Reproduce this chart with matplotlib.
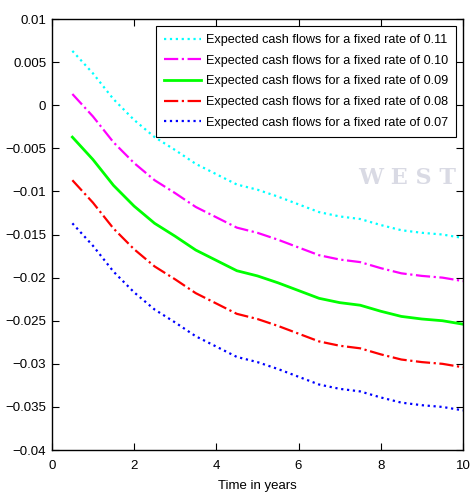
import numpy as np
import matplotlib.pyplot as plt

# Time grid (years)
t = np.array([0.5, 1.0, 1.5, 2.0, 2.5, 3.0, 3.5, 4.0, 4.5, 5.0,
              5.5, 6.0, 6.5, 7.0, 7.5, 8.0, 8.5, 9.0, 9.5, 10.0])

# Expected cash flows
cf_011 = np.array([0.0063, 0.0037, 0.0007, -0.0017, -0.0037, -0.0052, -0.0068, -0.0080, -0.0092, -0.0098,
                   -0.0106, -0.0115, -0.0124, -0.0129, -0.0132, -0.0139, -0.0145, -0.0148, -0.0150, -0.0154])
cf_010 = np.array([0.0013, -0.0013, -0.0043, -0.0067, -0.0087, -0.0102, -0.0118, -0.0130, -0.0142, -0.0148,
                   -0.0156, -0.0165, -0.0174, -0.0179, -0.0182, -0.0189, -0.0195, -0.0198, -0.0200, -0.0204])
cf_009 = np.array([-0.0037, -0.0063, -0.0093, -0.0117, -0.0137, -0.0152, -0.0168, -0.0180, -0.0192, -0.0198,
                   -0.0206, -0.0215, -0.0224, -0.0229, -0.0232, -0.0239, -0.0245, -0.0248, -0.0250, -0.0254])
cf_008 = np.array([-0.0087, -0.0113, -0.0143, -0.0167, -0.0187, -0.0202, -0.0218, -0.0230, -0.0242, -0.0248,
                   -0.0256, -0.0265, -0.0274, -0.0279, -0.0282, -0.0289, -0.0295, -0.0298, -0.0300, -0.0304])
cf_007 = np.array([-0.0137, -0.0163, -0.0193, -0.0217, -0.0237, -0.0252, -0.0268, -0.0280, -0.0292, -0.0298,
                   -0.0306, -0.0315, -0.0324, -0.0329, -0.0332, -0.0339, -0.0345, -0.0348, -0.0350, -0.0354])

labels = ["Expected cash flows for a fixed rate of 0.11",
          "Expected cash flows for a fixed rate of 0.10",
          "Expected cash flows for a fixed rate of 0.09",
          "Expected cash flows for a fixed rate of 0.08",
          "Expected cash flows for a fixed rate of 0.07"]

plt.rcParams['font.family'] = ['Liberation Sans', 'DejaVu Sans']

fig = plt.figure(figsize=(4.71, 4.94), dpi=100)
ax = fig.add_axes([0.110, 0.089, 0.873, 0.8725])

# faint watermark in the background
fig.text(0.76, 0.628, "W E S T", fontsize=16, family='DejaVu Serif', color='#d9dae4',
         fontweight='bold', zorder=0)

ax.patch.set_alpha(0)
ax.plot(t, cf_011, color=(0, 1, 1), linestyle=':', linewidth=1.6, label=labels[0])
ax.plot(t, cf_010, color=(1, 0, 1), linestyle='-.', linewidth=1.6, label=labels[1])
ax.plot(t, cf_009, color=(0, 1, 0), linestyle='-', linewidth=2.0, label=labels[2])
ax.plot(t, cf_008, color=(1, 0, 0), linestyle='-.', linewidth=1.6, label=labels[3])
ax.plot(t, cf_007, color=(0, 0, 1), linestyle=':', linewidth=1.6, label=labels[4])

ax.set_xlim(0, 10)
ax.set_ylim(-0.04, 0.01)
ax.set_xticks([0, 2, 4, 6, 8, 10])
ax.set_yticks([-0.04, -0.035, -0.03, -0.025, -0.02, -0.015, -0.01, -0.005, 0, 0.005, 0.01])
ax.set_yticklabels(["\u22120.04", "\u22120.035", "\u22120.03", "\u22120.025", "\u22120.02",
                    "\u22120.015", "\u22120.01", "\u22120.005", "0", "0.005", "0.01"])
ax.tick_params(direction='in', top=True, right=True, length=5, labelsize=9.5, width=0.8)
ax.tick_params(axis='x', pad=7)
ax.tick_params(axis='y', pad=4)
for s in ax.spines.values():
    s.set_linewidth(1.0)

ax.set_xlabel("Time in years", fontsize=9.5, labelpad=6)

leg = ax.legend(loc='upper right', fontsize=9.1, fancybox=False, framealpha=1,
                edgecolor='black', handlelength=2.9, handletextpad=0.4,
                borderpad=0.65, labelspacing=0.68, borderaxespad=0.55)
leg.get_frame().set_linewidth(0.8)

fig.savefig("out.png", dpi=100)
